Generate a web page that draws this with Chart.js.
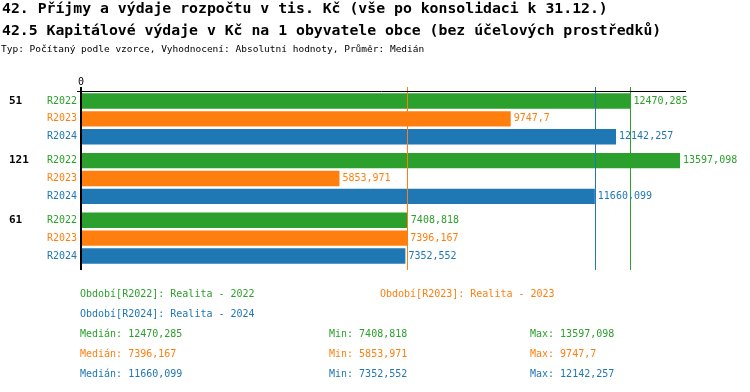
<!DOCTYPE html>
<html>
<head>
<meta charset="utf-8">
<script src="https://cdn.jsdelivr.net/npm/chart.js@4/dist/chart.umd.min.js"></script>
<style>
  body { margin: 0; background: #fff; }
  #wrap { position: relative; width: 750px; height: 392px; overflow: hidden; font-family: "DejaVu Sans Mono", monospace; }
  #chart { position: absolute; left: 0; top: 0; }
  .t { position: absolute; white-space: nowrap; line-height: 20px; }
  .title { font-weight: bold; font-size: 14.8px; left: 2px; color: #000; }
  .sub { font-size: 9.5px; left: 1px; top: 39px; color: #000; }
  .leg { font-size: 10px; }
</style>
</head>
<body>
<div id="wrap">
  <canvas id="chart" width="750" height="392"></canvas>
  <div class="t title" style="top:-2px">42. Příjmy a výdaje rozpočtu v tis. Kč (vše po konsolidaci k 31.12.)</div>
  <div class="t title" style="top:20px">42.5 Kapitálové výdaje v Kč na 1 obyvatele obce (bez účelových prostředků)</div>
  <div class="t sub">Typ: Počítaný podle vzorce, Vyhodnocení: Absolutní hodnoty, Průměr: Medián</div>
  <div id="legend"></div>
</div>
<script>
var categories = ['51', '121', '61'];
var seriesNames = ['R2022', 'R2023', 'R2024'];
var seriesTitles = ['Realita - 2022', 'Realita - 2023', 'Realita - 2024'];
var seriesColors = ['#2ca02c', '#ff7f0e', '#1f77b4'];
var valuesR2022 = [12470.285, 13597.098, 7408.818];
var valuesR2023 = [9747.7, 5853.971, 7396.167];
var valuesR2024 = [12142.257, 11660.099, 7352.552];
var seriesValues = [valuesR2022, valuesR2023, valuesR2024];

(function() {
  'use strict';

  var FONT = '"DejaVu Sans Mono", monospace';

  function formatNumber(v) {
    return String(v).replace('.', ',');
  }

  function median(arr) {
    var s = arr.slice().sort(function(a, b) { return a - b; });
    var m = Math.floor(s.length / 2);
    return s.length % 2 ? s[m] : (s[m - 1] + s[m]) / 2;
  }

  function addText(text, x, top, color) {
    var el = document.createElement('div');
    el.className = 't leg';
    el.style.left = x + 'px';
    el.style.top = top + 'px';
    el.style.color = color;
    el.textContent = text;
    document.getElementById('legend').appendChild(el);
  }

  function buildLegend() {
    // period descriptions
    addText('Období[' + seriesNames[0] + ']: ' + seriesTitles[0], 80, 284, seriesColors[0]);
    addText('Období[' + seriesNames[1] + ']: ' + seriesTitles[1], 380, 284, seriesColors[1]);
    addText('Období[' + seriesNames[2] + ']: ' + seriesTitles[2], 80, 304, seriesColors[2]);

    // stats
    seriesValues.forEach(function(vals, i) {
      var top = 324 + i * 20;
      addText('Medián: ' + formatNumber(median(vals)), 80, top, seriesColors[i]);
      addText('Min: ' + formatNumber(Math.min.apply(null, vals)), 329, top, seriesColors[i]);
      addText('Max: ' + formatNumber(Math.max.apply(null, vals)), 530, top, seriesColors[i]);
    });
  }

  var overlayPlugin = {
    id: 'overlay',
    afterDatasetsDraw: function(chart) {
      var ctx = chart.ctx;
      var area = chart.chartArea;
      var xs = chart.scales.x;
      var zeroX = xs.getPixelForValue(0);

      ctx.save();

      // Median lines
      seriesValues.forEach(function(vals, i) {
        var mx = Math.round(xs.getPixelForValue(median(vals))) + 0.5;
        ctx.strokeStyle = seriesColors[i];
        ctx.lineWidth = 1;
        ctx.beginPath();
        ctx.moveTo(mx, area.top - 2);
        ctx.lineTo(mx, area.bottom + 2);
        ctx.stroke();
      });

      // Axis lines
      ctx.strokeStyle = '#000';
      ctx.lineWidth = 1;
      ctx.beginPath();
      ctx.moveTo(zeroX - 5, Math.round(area.top) + 2.5);
      ctx.lineTo(area.right, Math.round(area.top) + 2.5);
      ctx.stroke();
      ctx.lineWidth = 2;
      ctx.beginPath();
      ctx.moveTo(zeroX - 1, area.top - 2);
      ctx.lineTo(zeroX - 1, area.bottom + 2);
      ctx.stroke();

      // Zero tick label
      ctx.fillStyle = '#000';
      ctx.font = '10px ' + FONT;
      ctx.textAlign = 'center';
      ctx.textBaseline = 'middle';
      ctx.fillText('0', zeroX - 1, area.top - 7);

      // Row labels and value labels
      seriesValues.forEach(function(vals, i) {
        var meta = chart.getDatasetMeta(i);
        meta.data.forEach(function(bar, j) {
          ctx.fillStyle = seriesColors[i];
          ctx.font = '10px ' + FONT;
          ctx.textAlign = 'right';
          ctx.fillText(seriesNames[i], zeroX - 5, bar.y);
          ctx.textAlign = 'left';
          ctx.fillText(formatNumber(vals[j]), bar.x + 3, bar.y);
          if (i === 0) {
            ctx.fillStyle = '#000';
            ctx.font = 'bold 11px ' + FONT;
            ctx.fillText(categories[j], 9, bar.y);
          }
        });
      });

      ctx.restore();
    }
  };

  function renderChart() {
    var allValues = [].concat(valuesR2022, valuesR2023, valuesR2024);
    var ctx = document.getElementById('chart').getContext('2d');
    new Chart(ctx, {
      type: 'bar',
      data: {
        labels: categories,
        datasets: seriesValues.map(function(vals, i) {
          return {
            label: seriesNames[i],
            data: vals,
            backgroundColor: seriesColors[i],
            borderWidth: 0,
            categoryPercentage: 0.9,
            barPercentage: 0.86
          };
        })
      },
      options: {
        indexAxis: 'y',
        responsive: false,
        animation: false,
        layout: { padding: { left: 82, right: 64, top: 89, bottom: 124 } },
        plugins: { legend: { display: false }, tooltip: { enabled: false } },
        scales: {
          x: { display: false, min: 0, max: Math.max.apply(null, allValues) * 1.01 },
          y: { display: false }
        }
      },
      plugins: [overlayPlugin]
    });
  }

  buildLegend();
  renderChart();
})();
</script>
</body>
</html>
